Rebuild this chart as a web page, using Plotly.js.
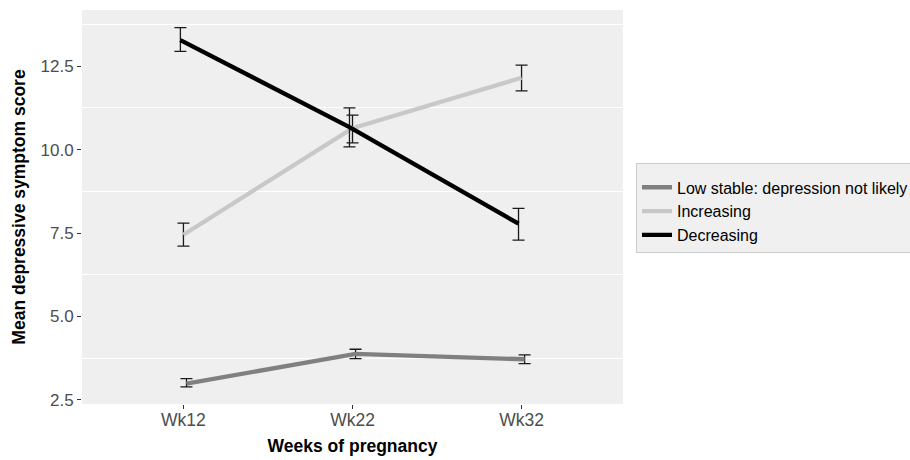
<!DOCTYPE html>
<html><head><meta charset="utf-8">
<script src="https://cdn.plot.ly/plotly-3.0.1.min.js"></script>
<style>body{margin:0;background:#fff}#c{width:910px;height:460px}</style>
</head><body><div id="c"></div>
<script>
const weeks = ["Wk12", "Wk22", "Wk32"];
const groups = ["Low stable: depression not likely", "Increasing", "Decreasing"];
const lowMean = [2.99, 3.88, 3.72];
const lowUpper = [3.14, 4.02, 3.85];
const lowLower = [2.89, 3.74, 3.59];
const incMean = [7.45, 10.64, 12.15];
const incUpper = [7.80, 11.03, 12.53];
const incLower = [7.11, 10.20, 11.76];
const decMean = [13.28, 10.67, 7.78];
const decUpper = [13.65, 11.25, 8.24];
const decLower = [12.94, 10.08, 7.29];
const yTicks = [2.5, 5.0, 7.5, 10.0, 12.5];

const colors = ["#808080", "#c8c8c8", "#000000"];
const dodge = [0.018, 0, -0.018];
const means = [lowMean, incMean, decMean];
const uppers = [lowUpper, incUpper, decUpper];
const lowers = [lowLower, incLower, decLower];

const traces = groups.map((g, i) => ({
  type: "scatter", mode: "lines", name: g,
  x: weeks.map((w, k) => k + dodge[i]),
  y: means[i],
  line: {color: colors[i], width: 4.3},
  error_y: {
    type: "data", symmetric: false,
    array: means[i].map((m, k) => uppers[i][k] - m),
    arrayminus: means[i].map((m, k) => m - lowers[i][k]),
    color: "#1a1a1a", thickness: 1.3, width: 6
  }
}));

const layout = {
  width: 910, height: 460,
  margin: {l: 82, r: 287, t: 10, b: 56, autoexpand: false},
  paper_bgcolor: "#ffffff", plot_bgcolor: "#efefef",
  font: {family: "Liberation Sans, Arial, sans-serif", size: 15, color: "#4d4d4d"},
  xaxis: {
    range: [-0.6, 2.6], tickvals: weeks.map((w, k) => k), ticktext: weeks,
    showgrid: false, zeroline: false, ticks: "outside", ticklen: 4, tickcolor: "#333",
    tickfont: {size: 17.5, color: "#4d4d4d"}, ticklabelstandoff: -4,
    title: {text: "<b>Weeks of pregnancy</b>", font: {size: 17.5, color: "#000"}, standoff: 10}
  },
  yaxis: {
    range: [2.38, 14.18], tickvals: yTicks, ticktext: yTicks.map(v => v.toFixed(1)),
    showgrid: false, zeroline: false, ticks: "outside", ticklen: 4, tickcolor: "#333",
    tickfont: {size: 17, color: "#4d4d4d"},
    minor: {tick0: 3.75, dtick: 2.5, showgrid: true, gridcolor: "#ffffff", gridwidth: 1, ticks: ""},
    title: {text: "<b>Mean depressive symptom score</b>", font: {size: 17.5, color: "#000"}, standoff: 10}
  },
  showlegend: true,
  legend: {
    x: 1.024, y: 0.612, xanchor: "left", yanchor: "top",
    bgcolor: "#f0f0f0", bordercolor: "#cccccc", borderwidth: 1,
    font: {size: 16, color: "#000"}, tracegroupgap: 0, itemwidth: 30,
    title: {text: " ", font: {size: 5}}
  }
};

Plotly.newPlot("c", traces, layout, {displayModeBar: false, staticPlot: true});
</script>
</body></html>
